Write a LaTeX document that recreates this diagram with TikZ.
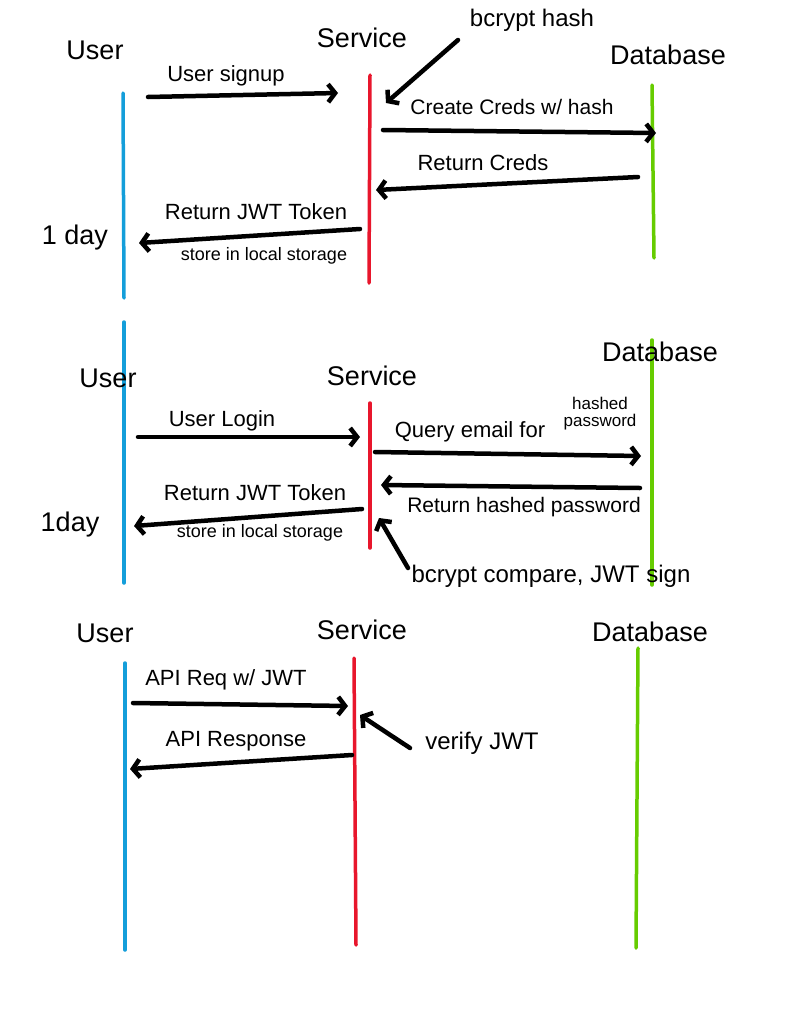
\documentclass[tikz,border=0pt]{standalone}
\usepackage{fontspec}
\setmainfont{Liberation Sans}
\usetikzlibrary{arrows.meta}
\definecolor{userblue}{RGB}{20,158,218}
\definecolor{servred}{RGB}{232,22,44}
\definecolor{dbgreen}{RGB}{102,204,0}
\tikzset{
  life/.style={line width=3.5pt, line cap=round},
  msg/.style={line width=4.5pt, line cap=round, -{Straight Barb[length=7pt,width=18pt]}},
  head/.style={font=\fontsize{27}{27}\selectfont},
  lbl/.style={font=\fontsize{22}{22}\selectfont},
  note/.style={font=\fontsize{24}{24}\selectfont},
  small/.style={font=\fontsize{18}{18}\selectfont},
}
\begin{document}
\begin{tikzpicture}[x=1pt,y=-1pt]
\useasboundingbox (0,0) rectangle (792,1020);
% lifelines
\draw[life, userblue] (123,93) -- (124,298);
\draw[life, userblue] (124,322) -- (124,583);
\draw[life, servred] (370,75) -- (369,283);
\draw[life, servred] (370,403) -- (370,548);
\draw[life, dbgreen] (652,85) -- (654,258);
\draw[life, dbgreen] (652,340) -- (652,585);
\draw[life, userblue] (125,663) -- (125,950);
\draw[life, servred] (354,658) -- (356,945);
\draw[life, dbgreen] (638,648) -- (636,948);

% signup
\node[head] (user1) at (95,50) {User};
\node[head] (serv1) at (362,38) {Service};
\node[head] (db1) at (668,55) {Database};
\node[note] (hash) at (532,20) {bcrypt hash};
\coordinate (hashA) at (458,40);
\coordinate (hashB) at (386,103);
\draw[msg] (hashA) -- (hashB);
\node[lbl] (signup) at (226,76) {User signup};
\coordinate (signupA) at (148,97);
\coordinate (signupB) at (338,93);
\draw[msg] (signupA) -- (signupB);
\node[lbl, font=\fontsize{21}{21}\selectfont] (create) at (512,107) {Create Creds w/ hash};
\coordinate (createA) at (383,130);
\coordinate (createB) at (656,133);
\draw[msg] (createA) -- (createB);
\node[lbl] (retcreds) at (483,163) {Return Creds};
\coordinate (retcredsA) at (638,177);
\coordinate (retcredsB) at (376,190);
\draw[msg] (retcredsA) -- (retcredsB);
\node[lbl] (jwt1) at (256,212) {Return JWT Token};
\node[small] (store1) at (264,256) {store in local storage};
\coordinate (jwt1A) at (360,229);
\coordinate (jwt1B) at (139,243);
\draw[msg] (jwt1A) -- (jwt1B);
\node[head] (day1) at (75,238) {1 day};

% login
\node[head] (user2) at (108,378) {User};
\node[head] (serv2) at (372,376) {Service};
\node[head] (db2) at (660,352) {Database};
\node[lbl] (login) at (222,421) {User Login};
\coordinate (loginA) at (138,437);
\coordinate (loginB) at (360,437);
\draw[msg] (loginA) -- (loginB);
\node[lbl] (query) at (470,432) {Query email for};
\node[small, align=center, font=\fontsize{17}{17}\selectfont] (hashed) at (600,414) {hashed\\password};
\coordinate (queryA) at (375,452);
\coordinate (queryB) at (641,456);
\draw[msg] (queryA) -- (queryB);
\node[lbl, font=\fontsize{21}{21}\selectfont] (rethash) at (524,507) {Return hashed password};
\coordinate (rethashA) at (640,488);
\coordinate (rethashB) at (381,485);
\draw[msg] (rethashA) -- (rethashB);
\node[lbl] (jwt2) at (255,493) {Return JWT Token};
\node[small] (store2) at (260,533) {store in local storage};
\coordinate (jwt2A) at (362,509);
\coordinate (jwt2B) at (134,526);
\draw[msg] (jwt2A) -- (jwt2B);
\node[head] (day2) at (70,525) {1day};
\node[note] (compare) at (551,576) {bcrypt compare, JWT sign};
\coordinate (compareA) at (408,568);
\coordinate (compareB) at (379,518);
\draw[msg] (compareA) -- (compareB);

% api
\node[head] (user3) at (105,633) {User};
\node[head] (serv3) at (362,630) {Service};
\node[head] (db3) at (650,632) {Database};
\node[lbl] (apireq) at (226,680) {API Req w/ JWT};
\coordinate (apireqA) at (133,703);
\coordinate (apireqB) at (348,706);
\draw[msg] (apireqA) -- (apireqB);
\node[lbl] (apires) at (236,741) {API Response};
\coordinate (apiresA) at (352,755);
\coordinate (apiresB) at (130,769);
\draw[msg] (apiresA) -- (apiresB);
\node[note] (verify) at (482,743) {verify JWT};
\coordinate (verifyA) at (410,748);
\coordinate (verifyB) at (360,715);
\draw[msg] (verifyA) -- (verifyB);
\end{tikzpicture}
\end{document}
